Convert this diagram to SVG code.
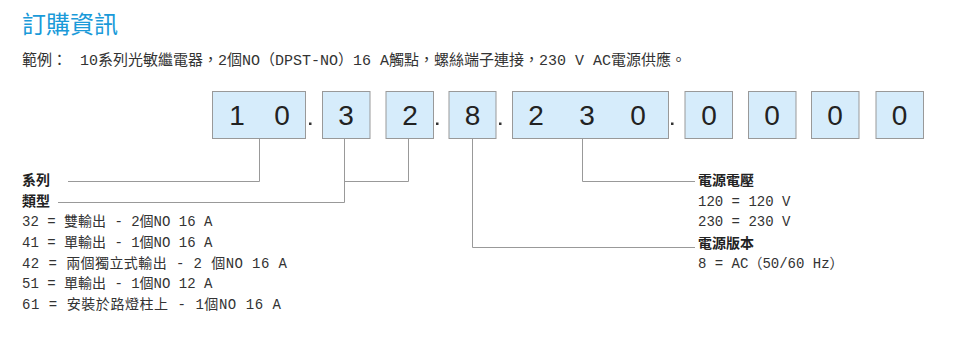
<svg xmlns="http://www.w3.org/2000/svg" width="960" height="344" viewBox="0 0 960 344">
<style>
.title{font-family:"Noto Sans CJK TC","Noto Sans",sans-serif;font-size:24px;fill:#1a9ad9;}
.t{font-family:"Liberation Mono","Noto Sans CJK TC",monospace;font-size:14px;fill:#333;}
.t15{font-family:"Liberation Mono","Noto Sans CJK TC",monospace;font-size:15px;fill:#333;}
.h{font-family:"Noto Sans CJK TC",sans-serif;font-size:14px;font-weight:bold;fill:#222;}
.box{fill:#d6ecfb;stroke:#999;stroke-width:1;}
.dig{font-family:"Liberation Sans",Arial,sans-serif;font-size:28px;fill:#222;text-anchor:middle;}
.dot{fill:#333;}
.conn{fill:none;stroke:#999;stroke-width:1;}
</style>
<rect width="960" height="344" fill="#fff"/>
<text class="title" x="22" y="33">訂購資訊</text>
<text class="t15" x="22" y="65">範例：</text>
<text class="t15" x="80" y="65">10系列光敏繼電器，2個NO（DPST-NO）16 A觸點，螺絲端子連接，230 V AC電源供應。</text>

<g id="node-10">
<rect class="box" x="212.5" y="91.5" width="93" height="47"/>
<text class="dig" x="237" y="125">1</text>
<text class="dig" x="282" y="125">0</text>
</g>
<rect class="dot" x="309" y="122.5" width="2.5" height="2.5"/>
<g id="node-3">
<rect class="box" x="322.5" y="91.5" width="47.5" height="47"/>
<text class="dig" x="346" y="125">3</text>
</g>
<g id="node-2">
<rect class="box" x="386" y="91.5" width="47.5" height="47"/>
<text class="dig" x="410" y="125">2</text>
</g>
<rect class="dot" x="436" y="122.5" width="2.5" height="2.5"/>
<g id="node-8">
<rect class="box" x="449" y="91.5" width="47" height="47"/>
<text class="dig" x="472.5" y="125">8</text>
</g>
<rect class="dot" x="499" y="122.5" width="2.5" height="2.5"/>
<g id="node-230">
<rect class="box" x="512.5" y="91.5" width="156" height="47"/>
<text class="dig" x="536" y="125">2</text>
<text class="dig" x="587" y="125">3</text>
<text class="dig" x="638" y="125">0</text>
</g>
<rect class="dot" x="671" y="122.5" width="2.5" height="2.5"/>
<g id="node-0a">
<rect class="box" x="685" y="91.5" width="47.5" height="47"/>
<text class="dig" x="709" y="125">0</text>
</g>
<g id="node-0b">
<rect class="box" x="748.5" y="91.5" width="47.5" height="47"/>
<text class="dig" x="772" y="125">0</text>
</g>
<g id="node-0c">
<rect class="box" x="811.5" y="91.5" width="47.5" height="47"/>
<text class="dig" x="835" y="125">0</text>
</g>
<g id="node-0d">
<rect class="box" x="876" y="91.5" width="47.5" height="47"/>
<text class="dig" x="899.5" y="125">0</text>
</g>

<g id="connectors">
<polyline class="conn" points="259.5,138.5 259.5,181.5 68,181.5"/>
<polyline class="conn" points="344.5,138.5 344.5,202.5 58,202.5"/>
<polyline class="conn" points="408.5,138.5 408.5,181.5 344.5,181.5"/>
<polyline class="conn" points="472.5,138.5 472.5,247.5 695,247.5"/>
<polyline class="conn" points="582.5,138.5 582.5,181.5 695,181.5"/>
</g>

<g id="legend-left">
<text class="h" x="22" y="185">系列</text>
<text class="h" x="22" y="206">類型</text>
<text class="t" x="22" y="226">32 = 雙輸出 - 2個NO 16 A</text>
<text class="t" x="22" y="247">41 = 單輸出 - 1個NO 16 A</text>
<text class="t" x="22" y="267.5" textLength="265">42 = 兩個獨立式輸出 - 2 個NO 16 A</text>
<text class="t" x="22" y="288">51 = 單輸出 - 1個NO 12 A</text>
<text class="t" x="22" y="308.5" textLength="259">61 = 安裝於路燈柱上 - 1個NO 16 A</text>
</g>
<g id="legend-right">
<text class="h" x="698" y="185">電源電壓</text>
<text class="t" x="698" y="205.5">120 = 120 V</text>
<text class="t" x="698" y="226">230 = 230 V</text>
<text class="h" x="698" y="248">電源版本</text>
<text class="t" x="698" y="268">8 = AC（50/60 Hz）</text>
</g>
</svg>
